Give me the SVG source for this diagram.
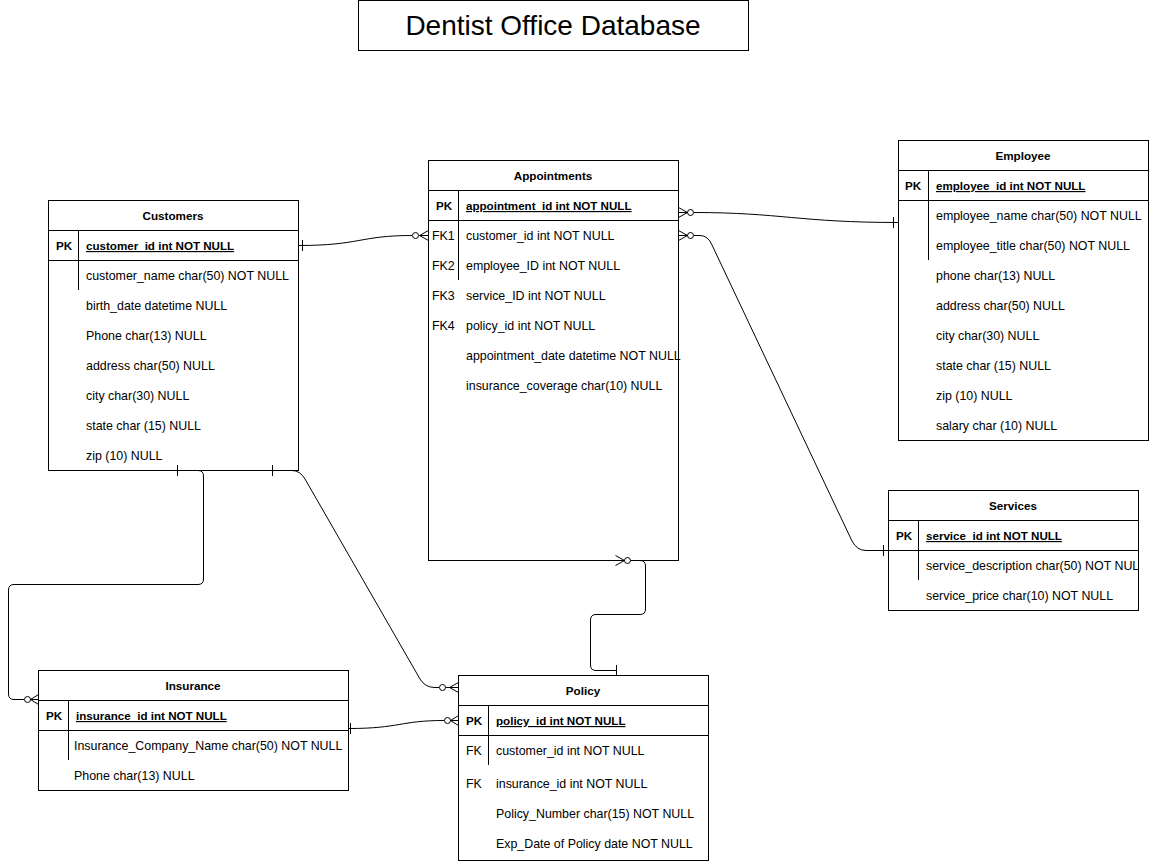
<svg xmlns="http://www.w3.org/2000/svg" width="1149" height="861" viewBox="0 0 1149 861">
<style>
text{font-family:"Liberation Sans",Arial,sans-serif;font-size:12.4px;fill:#000}
.h{font-weight:bold;text-anchor:middle;font-size:11.7px}
.pk{font-weight:bold;font-size:11.7px}
.u{font-weight:bold;text-decoration:underline;font-size:11.6px}
.box{fill:#fff;stroke:#000;stroke-width:1}
.ln{stroke:#000;stroke-width:1;fill:none}
.c{stroke:#000;stroke-width:1;fill:none}
.o{stroke:#000;stroke-width:1;fill:#fff}
</style>
<defs>
<clipPath id="svcClip"><rect x="888" y="490" width="250" height="120"/></clipPath>
</defs>
<rect width="1149" height="861" fill="#fff"/>
<g id="title">
<rect class="box" x="358.5" y="0.5" width="390" height="50"/>
<text x="553" y="35" style="font-size:28px;text-anchor:middle">Dentist Office Database</text>
</g>
<g id="customers">
<rect class="box" x="48.5" y="200.5" width="250" height="270"/>
<path class="ln" d="M48.5,230.5H298.5M48.5,260.5H298.5M78.5,230.5V290"/>
<text class="h" x="173" y="220">Customers</text>
<text class="pk" x="56" y="250">PK</text>
<text class="u" x="86" y="250">customer_id int NOT NULL</text>
<text x="86" y="280">customer_name char(50) NOT NULL</text>
<text x="86" y="310">birth_date datetime NULL</text>
<text x="86" y="340">Phone char(13) NULL</text>
<text x="86" y="370">address char(50) NULL</text>
<text x="86" y="400">city char(30) NULL</text>
<text x="86" y="430">state char (15) NULL</text>
<text x="86" y="460">zip (10) NULL</text>
</g>
<g id="appointments">
<rect class="box" x="428.5" y="160.5" width="250" height="400"/>
<path class="ln" d="M428.5,190.5H678.5M428.5,220.5H678.5M458.5,190.5V280"/>
<text class="h" x="553" y="180">Appointments</text>
<text class="pk" x="436" y="210">PK</text>
<text class="u" x="466" y="210">appointment_id int NOT NULL</text>
<text x="432" y="240">FK1</text>
<text x="466" y="240">customer_id int NOT NULL</text>
<text x="432" y="270">FK2</text>
<text x="466" y="270">employee_ID int NOT NULL</text>
<text x="432" y="300">FK3</text>
<text x="466" y="300">service_ID int NOT NULL</text>
<text x="432" y="330">FK4</text>
<text x="466" y="330">policy_id int NOT NULL</text>
<text x="466" y="360">appointment_date datetime NOT NULL</text>
<text x="466" y="390">insurance_coverage char(10) NULL</text>
</g>
<g id="employee">
<rect class="box" x="898.5" y="140.5" width="250" height="300"/>
<path class="ln" d="M898.5,170.5H1148.5M898.5,200.5H1148.5M928.5,170.5V260"/>
<text class="h" x="1023" y="160">Employee</text>
<text class="pk" x="905" y="190">PK</text>
<text class="u" x="936" y="190">employee_id int NOT NULL</text>
<text x="936" y="220">employee_name char(50) NOT NULL</text>
<text x="936" y="250">employee_title char(50) NOT NULL</text>
<text x="936" y="280">phone char(13) NULL</text>
<text x="936" y="310">address char(50) NULL</text>
<text x="936" y="340">city char(30) NULL</text>
<text x="936" y="370">state char (15) NULL</text>
<text x="936" y="400">zip (10) NULL</text>
<text x="936" y="430">salary char (10) NULL</text>
</g>
<g id="services">
<rect class="box" x="888.5" y="490.5" width="250" height="120"/>
<path class="ln" d="M888.5,520.5H1138.5M888.5,550.5H1138.5M918.5,520.5V580"/>
<text class="h" x="1013" y="510">Services</text>
<text class="pk" x="896" y="540">PK</text>
<text class="u" x="926" y="540">service_id int NOT NULL</text>
<text x="926" y="570" clip-path="url(#svcClip)">service_description char(50) NOT NULL</text>
<text x="926" y="600">service_price char(10) NOT NULL</text>
</g>
<g id="insurance">
<rect class="box" x="38.5" y="670.5" width="310" height="120"/>
<path class="ln" d="M38.5,700.5H348.5M38.5,730.5H348.5M68.5,700.5V760"/>
<text class="h" x="193" y="690">Insurance</text>
<text class="pk" x="46" y="720">PK</text>
<text class="u" x="76" y="720">insurance_id int NOT NULL</text>
<text x="74" y="750">Insurance_Company_Name char(50) NOT NULL</text>
<text x="74" y="780">Phone char(13) NULL</text>
</g>
<g id="policy">
<rect class="box" x="458.5" y="675.5" width="250" height="185"/>
<path class="ln" d="M458.5,705.5H708.5M458.5,735.5H708.5M488.5,705.5V765"/>
<text class="h" x="583" y="695">Policy</text>
<text class="pk" x="466" y="725">PK</text>
<text class="u" x="496" y="725">policy_id int NOT NULL</text>
<text x="466" y="755">FK</text>
<text x="496" y="755">customer_id int NOT NULL</text>
<text x="466" y="788">FK</text>
<text x="496" y="788">insurance_id int NOT NULL</text>
<text x="496" y="818">Policy_Number char(15) NOT NULL</text>
<text x="496" y="848">Exp_Date of Policy date NOT NULL</text>
</g>
<g id="connectors">
<path class="c" d="M298.5,245.5C360,245.5 360,235.5 412,235.5"/>
<path class="c" d="M302.5,240V251"/>
<circle class="o" cx="415.5" cy="235.5" r="3"/>
<path class="c" d="M428.5,230.5L419.5,235.5L428.5,240.5M419.5,235.5H428.5"/>
<path class="c" d="M694,212.5C780,212.5 800,222.5 898.5,222.5"/>
<path class="c" d="M893.5,217V228"/>
<circle class="o" cx="690.5" cy="212.5" r="3"/>
<path class="c" d="M678.5,207.5L687.5,212.5L678.5,217.5M678.5,212.5H687.5"/>
<path class="c" d="M694,235.5H700Q708,235.5 712,245L852,541Q857,550.5 866,550.5H888.5"/>
<path class="c" d="M883.5,545V556"/>
<circle class="o" cx="690.5" cy="235.5" r="3"/>
<path class="c" d="M678.5,230.5L687.5,235.5L678.5,240.5M678.5,235.5H687.5"/>
<path class="c" d="M631,560.5H640Q645.5,560.5 645.5,566V609Q645.5,614.5 640,614.5H596Q590.5,614.5 590.5,620V665Q590.5,670.5 596,670.5H616.5"/>
<path class="c" d="M616.5,665V676"/>
<circle class="o" cx="627.5" cy="560.5" r="3"/>
<path class="c" d="M615.5,555.5L624.5,560.5L615.5,565.5"/>
<path class="c" d="M177.5,470.5H198Q203.5,470.5 203.5,476V579Q203.5,584.5 198,584.5H14Q8.5,584.5 8.5,590V694Q8.5,699.5 14,699.5H24"/>
<path class="c" d="M177.5,465V476"/>
<circle class="o" cx="27.5" cy="699.5" r="3"/>
<path class="c" d="M38.5,694.5L30.5,699.5L38.5,704.5M30.5,699.5H38.5"/>
<path class="c" d="M272.5,470.5H292Q300,470.5 305,479L420,679Q425,687.5 435,687.5H439"/>
<path class="c" d="M272.5,465V476"/>
<circle class="o" cx="442.5" cy="687.5" r="3"/>
<path class="c" d="M458.5,682.5L449.5,687.5L458.5,692.5M445.5,687.5H458.5"/>
<path class="c" d="M348.5,728.5C400,728.5 400,720.5 444,720.5"/>
<path class="c" d="M350.5,723V734"/>
<circle class="o" cx="447.5" cy="720.5" r="3"/>
<path class="c" d="M458.5,715.5L450.5,720.5L458.5,725.5M450.5,720.5H458.5"/>
</g>
</svg>
